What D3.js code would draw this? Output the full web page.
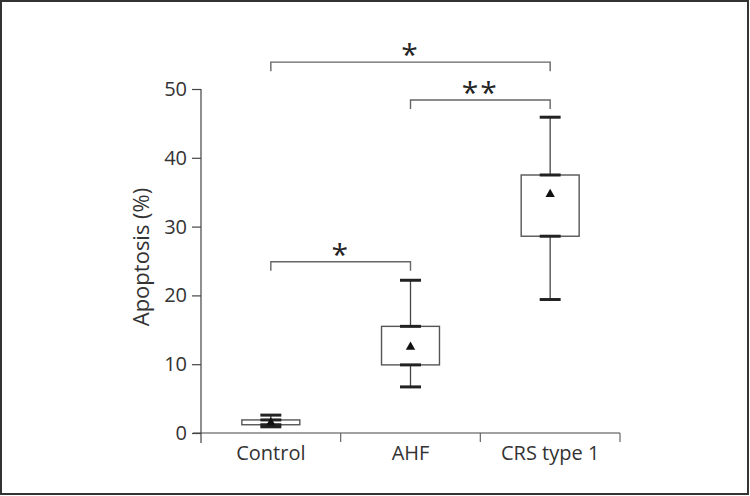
<!DOCTYPE html>
<html><head><meta charset="utf-8">
<script src="https://cdn.jsdelivr.net/npm/d3@7"></script>
<style>body{margin:0;background:#fff;}svg{display:block;font-family:"Open Sans",sans-serif;}</style>
</head><body>
<svg id="c" width="750" height="496"></svg>
<script>
const categories = ["Control", "AHF", "CRS type 1"];
const whiskerLow  = [0.9, 6.7, 19.4];
const q1          = [1.2, 9.9, 28.6];
const q3          = [1.9, 15.5, 37.5];
const whiskerHigh = [2.6, 22.2, 45.9];
const means       = [1.5, 12.5, 34.7];
const yTicks = [0, 10, 20, 30, 40, 50];
const bracketFrom  = [0, 1, 0];
const bracketTo    = [2, 2, 1];
const bracketLevel = [53.9, 48.4, 24.9];
const bracketLabel = ["*", "**", "*"];

const svg = d3.select("#c");
svg.append("rect").attr("x",1).attr("y",1).attr("width",747).attr("height",493)
  .attr("fill","none").attr("stroke","#333").attr("stroke-width",2);

const y = d3.scaleLinear().domain([0,50]).range([433,89]);
const x = d3.scaleBand().domain(categories).range([201,620]).padding(0);
const cx = c => x(c) + x.bandwidth()/2;
const boxW = x.bandwidth()*0.415, capW = x.bandwidth()*0.15;

// y axis
const yAxis = svg.append("g").attr("transform","translate(201,0)")
  .call(d3.axisLeft(y).tickValues(yTicks).tickSize(9).tickPadding(5));
yAxis.select(".domain").remove();
yAxis.selectAll("line").attr("stroke","#444").attr("stroke-width",1.2);
yAxis.selectAll("text").attr("font-size",20).attr("fill","#333").attr("font-family","Open Sans");
svg.append("line").attr("x1",201).attr("x2",201).attr("y1",y(50)).attr("y2",443)
  .attr("stroke","#444").attr("stroke-width",1.2);

// x axis
svg.append("line").attr("x1",193).attr("x2",620).attr("y1",y(0)).attr("y2",y(0))
  .attr("stroke","#444").attr("stroke-width",1.2);
const xAxis = svg.append("g").attr("transform",`translate(0,${y(0)})`)
  .call(d3.axisBottom(x).tickSize(0).tickPadding(13));
xAxis.select(".domain").remove();
xAxis.selectAll("text").attr("font-size",20).attr("fill","#333").attr("font-family","Open Sans");
const bounds = [x.range()[0], ...categories.map(c => x(c)+x.bandwidth())];
svg.selectAll(".xt").data(bounds.slice(1)).enter().append("line")
  .attr("x1",d=>d).attr("x2",d=>d).attr("y1",y(0)).attr("y2",y(0)+9)
  .attr("stroke","#666").attr("stroke-width",1.2);

svg.append("text").attr("transform",`translate(149,257) rotate(-90)`)
  .attr("text-anchor","middle").attr("font-size",22).attr("fill","#333").text("Apoptosis (%)");

// boxes
categories.forEach((c,i) => {
  const g = svg.append("g");
  const m = cx(c);
  g.append("line").attr("x1",m).attr("x2",m).attr("y1",y(whiskerHigh[i])).attr("y2",y(q3[i]))
    .attr("stroke","#444").attr("stroke-width",1.3);
  g.append("line").attr("x1",m).attr("x2",m).attr("y1",y(q1[i])).attr("y2",y(whiskerLow[i]))
    .attr("stroke","#444").attr("stroke-width",1.3);
  g.append("rect").attr("x",m-boxW/2).attr("y",y(q3[i])).attr("width",boxW)
    .attr("height",y(q1[i])-y(q3[i])).attr("fill","#fff").attr("stroke","#555").attr("stroke-width",1.4);
  [whiskerHigh[i], whiskerLow[i], q3[i], q1[i]].forEach(v => {
    g.append("line").attr("x1",m-capW/2).attr("x2",m+capW/2).attr("y1",y(v)).attr("y2",y(v))
      .attr("stroke","#222").attr("stroke-width",3);
  });
  g.append("path").attr("d",d3.symbol(d3.symbolTriangle, 38)())
    .attr("transform",`translate(${m},${y(means[i])})`).attr("fill","#111");
});

// significance brackets
bracketLabel.forEach((lab,i) => {
  const x1 = cx(categories[bracketFrom[i]]), x2 = cx(categories[bracketTo[i]]), yy = y(bracketLevel[i]);
  svg.append("path").attr("d",`M${x1},${yy+9}V${yy}H${x2}V${yy+9}`)
    .attr("fill","none").attr("stroke","#666").attr("stroke-width",1.4);
  svg.append("text").attr("x",(x1+x2)/2).attr("y",yy+3).attr("text-anchor","middle")
    .attr("font-size",30).attr("fill","#222").attr("letter-spacing",2).text(lab);
});
</script>
</body></html>
